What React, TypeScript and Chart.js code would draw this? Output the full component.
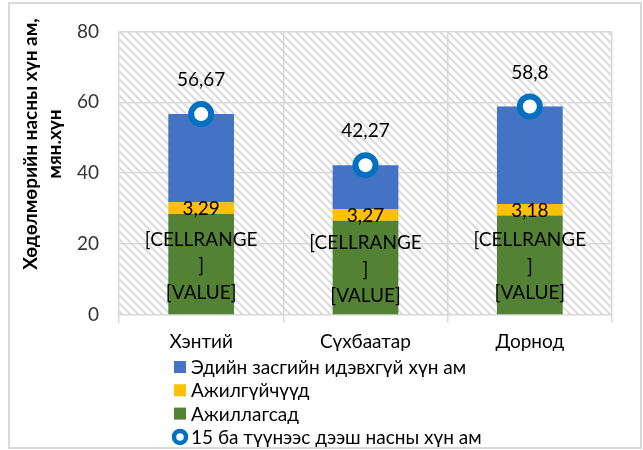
import React, { useEffect, useRef } from "react";
import { Chart, registerables } from "chart.js";

Chart.register(...registerables);

// ---- data ----
const categories = ["Хэнтий", "Сүхбаатар", "Дорнод"];
const employed = [28.5, 26.6, 28.1];
const unemployed = [3.29, 3.27, 3.18];
const inactive = [24.88, 12.4, 27.52];
const population15 = [56.67, 42.27, 58.8];
const yTickValues = [0, 20, 40, 60, 80];

const nameInactive = "Эдийн засгийн идэвхгүй хүн ам";
const nameUnemployed = "Ажилгүйчүүд";
const nameEmployed = "Ажиллагсад";
const namePopulation = "15 ба түүнээс дээш насны хүн ам";
const yTitleLines = ["Хөдөлмөрийн насны хүн ам,", "мян.хүн"];
const employedLabelLines = ["[CELLRANGE", "]", "[VALUE]"];

// ---- styles ----
const FONT = "Lato, 'Open Sans', sans-serif";
const BLUE = "#4472C4";
const YELLOW = "#FFC000";
const GREEN = "#548235";
const RING = "#0070C0";
const GRID = "#d9d9d9";
const TEXT = "#000000";
const TICK = "#333333";

const fmt = (v: number) => String(v).replace(".", ",");

function makeHatch(): CanvasPattern | string {
  const c = document.createElement("canvas");
  c.width = 8;
  c.height = 8;
  const g = c.getContext("2d");
  if (!g) return "#fff";
  g.fillStyle = "#ffffff";
  g.fillRect(0, 0, 8, 8);
  g.strokeStyle = "#dcdcdc";
  g.lineWidth = 2.2;
  for (const off of [-8, 0, 8]) {
    g.beginPath();
    g.moveTo(off - 2, -2);
    g.lineTo(off + 10, 10);
    g.stroke();
  }
  const p = g.createPattern(c, "repeat");
  return p || "#fff";
}

const backgroundPlugin = {
  id: "bgHatch",
  beforeDraw(chart: any) {
    const { ctx, chartArea } = chart;
    ctx.save();
    ctx.fillStyle = "#ffffff";
    ctx.fillRect(0, 0, chart.width, chart.height);
    ctx.fillStyle = makeHatch();
    ctx.fillRect(chartArea.left, chartArea.top, chartArea.right - chartArea.left, chartArea.bottom - chartArea.top);
    ctx.restore();
  },
  afterDraw(chart: any) {
    const { ctx } = chart;
    ctx.save();
    // outer border
    ctx.strokeStyle = GRID;
    ctx.lineWidth = 2;
    ctx.strokeRect(9, 3, 632, 445);

    // y-axis title
    ctx.fillStyle = TEXT;
    ctx.font = `bold 19px ${FONT}`;
    ctx.textAlign = "center";
    ctx.textBaseline = "middle";
    const xs = [31, 55];
    yTitleLines.forEach((line, i) => {
      ctx.save();
      ctx.translate(xs[i], 144);
      ctx.rotate(-Math.PI / 2);
      ctx.fillText(line, 0, 0);
      ctx.restore();
    });

    // legend
    const items = [
      { kind: "box", color: BLUE, text: nameInactive },
      { kind: "box", color: YELLOW, text: nameUnemployed },
      { kind: "box", color: GREEN, text: nameEmployed },
      { kind: "ring", color: RING, text: namePopulation },
    ];
    ctx.font = `19px ${FONT}`;
    ctx.textAlign = "left";
    items.forEach((it, i) => {
      const cy = 367 + i * 23.3;
      if (it.kind === "box") {
        ctx.fillStyle = it.color;
        ctx.fillRect(174, cy - 6, 12, 12);
      } else {
        ctx.beginPath();
        ctx.arc(180, cy, 6, 0, Math.PI * 2);
        ctx.fillStyle = "#fff";
        ctx.fill();
        ctx.lineWidth = 4.5;
        ctx.strokeStyle = it.color;
        ctx.stroke();
      }
      ctx.fillStyle = TEXT;
      ctx.fillText(it.text, 191, cy + 1);
    });
    ctx.restore();
  },
};

const labelsPlugin = {
  id: "dataLabels",
  afterDatasetsDraw(chart: any) {
    const { ctx } = chart;
    ctx.save();
    ctx.fillStyle = TEXT;
    ctx.font = `19px ${FONT}`;
    ctx.textAlign = "center";
    ctx.textBaseline = "middle";
    // unemployed (yellow)
    const yMeta = chart.getDatasetMeta(1);
    yMeta.data.forEach((el: any, i: number) => {
      const { x, y, base } = el.getProps(["x", "y", "base"], true);
      ctx.fillText(fmt(unemployed[i]), x, (y + base) / 2 + 1);
    });
    // employed (green)
    const gMeta = chart.getDatasetMeta(0);
    gMeta.data.forEach((el: any) => {
      const { x, y, base } = el.getProps(["x", "y", "base"], true);
      const cy = (y + base) / 2 + 2;
      employedLabelLines.forEach((ln, k) => {
        ctx.fillText(ln, x, cy + (k - 1) * 26.5);
      });
    });
    // totals (points)
    const pMeta = chart.getDatasetMeta(3);
    pMeta.data.forEach((el: any, i: number) => {
      const { x, y } = el.getProps(["x", "y"], true);
      ctx.fillText(fmt(population15[i]), x, y - 34);
    });
    ctx.restore();
  },
};

export default function App() {
  const ref = useRef<HTMLCanvasElement | null>(null);

  useEffect(() => {
    if (!ref.current) return;
    const chart = new Chart(ref.current, {
      type: "bar",
      data: {
        labels: categories,
        datasets: [
          { type: "bar", label: nameEmployed, data: employed, backgroundColor: GREEN, stack: "s", order: 2, barPercentage: 1, categoryPercentage: 0.4 },
          { type: "bar", label: nameUnemployed, data: unemployed, backgroundColor: YELLOW, stack: "s", order: 2, barPercentage: 1, categoryPercentage: 0.4 },
          { type: "bar", label: nameInactive, data: inactive, backgroundColor: BLUE, stack: "s", order: 2, barPercentage: 1, categoryPercentage: 0.4 },
          {
            type: "line",
            label: namePopulation,
            data: population15,
            stack: "p",
            order: 0,
            showLine: false,
            pointRadius: 10,
            pointBorderWidth: 6,
            pointBackgroundColor: "#ffffff",
            pointBorderColor: RING,
          } as any,
        ],
      },
      options: {
        animation: false,
        responsive: false,
        maintainAspectRatio: false,
        layout: { padding: { top: 31, right: 31, left: 0, bottom: 0 } },
        plugins: { legend: { display: false }, tooltip: { enabled: false } },
        scales: {
          x: {
            stacked: true,
            offset: true,
            grid: { offset: true, color: GRID, lineWidth: 1.5, drawTicks: true, tickLength: 8 },
            border: { display: false },
            ticks: { color: TEXT, font: { family: FONT, size: 19 }, padding: 7 },
            afterFit: (s: any) => { s.height = 135; },
          },
          y: {
            stacked: true,
            min: 0,
            max: 80,
            afterBuildTicks: (s: any) => { s.ticks = yTickValues.map((v) => ({ value: v })); },
            grid: { color: GRID, lineWidth: 1.5, drawTicks: false },
            border: { display: false },
            ticks: { color: TICK, font: { family: FONT, size: 19 }, padding: 20 },
            afterFit: (s: any) => { s.width = 119; },
          },
        },
      },
      plugins: [backgroundPlugin, labelsPlugin],
    });
    return () => chart.destroy();
  }, []);

  return (
    <div style={{ position: "fixed", left: 0, top: 0, width: 643, height: 450, background: "#fff" }}>
      <canvas ref={ref} width={643} height={450} style={{ display: "block", width: 643, height: 450 }} />
    </div>
  );
}
